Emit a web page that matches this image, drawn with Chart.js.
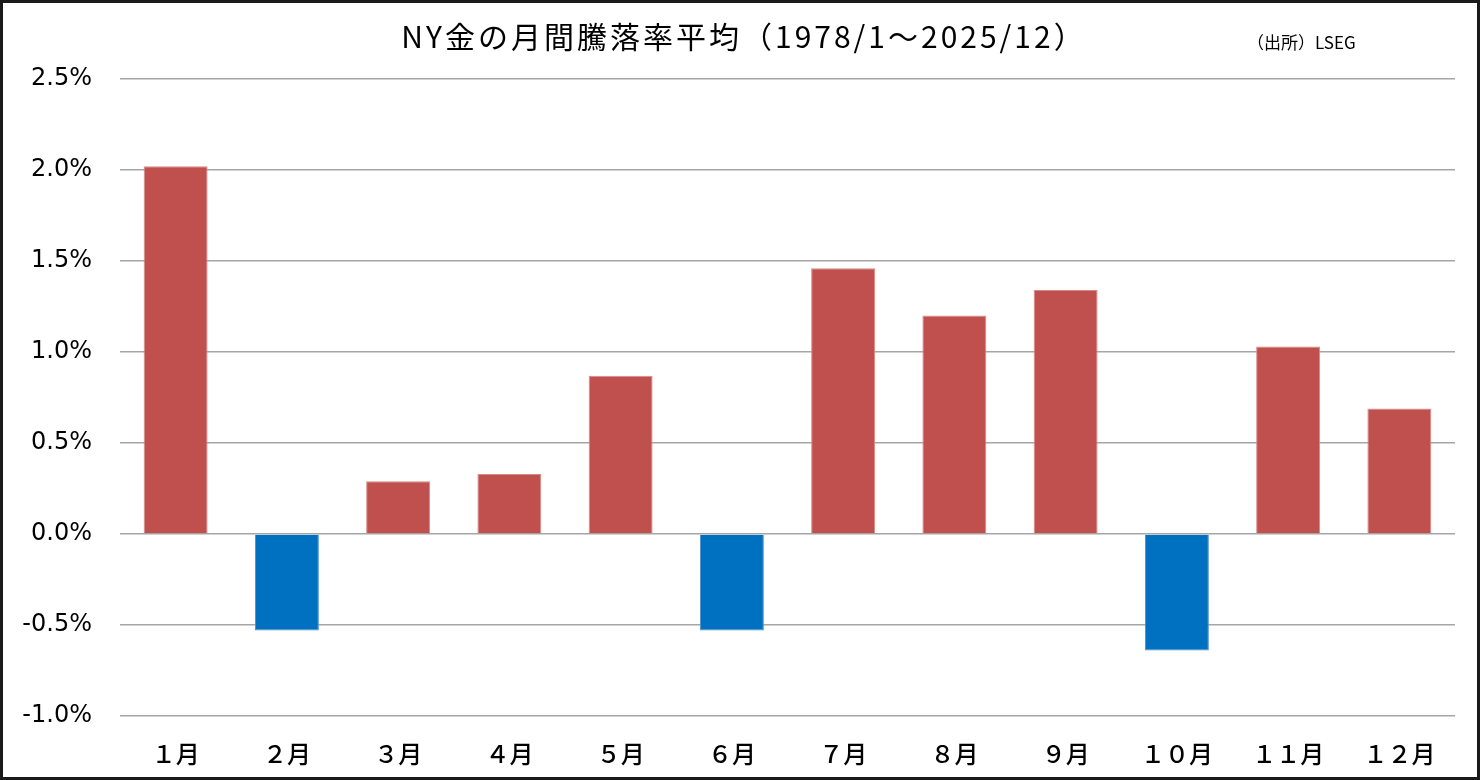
<!DOCTYPE html>
<html lang="ja">
<head>
<meta charset="utf-8">
<title>NY金の月間騰落率平均</title>
<script src="https://cdn.jsdelivr.net/npm/chart.js@4"></script>
<style>
  html, body { margin: 0; padding: 0; background: #fff; }
  #frame {
    width: 1480px; height: 780px; box-sizing: border-box;
    border: 3px solid #1a1a1a; background: #fff;
  }
  #wrap { position: relative; width: 1474px; height: 774px; }
</style>
</head>
<body>
<div id="frame"><div id="wrap"><canvas id="goldChart"></canvas></div></div>
<script>
// 月のラベル
const months = ['１月', '２月', '３月', '４月', '５月', '６月', '７月', '８月', '９月', '１０月', '１１月', '１２月'];
// 月間騰落率の平均（%）— 図から読み取り
const avgReturns = [2.02, -0.53, 0.29, 0.33, 0.87, -0.53, 1.46, 1.20, 1.34, -0.64, 1.03, 0.69];
// 目盛り
const yTicks = [-1.0, -0.5, 0.0, 0.5, 1.0, 1.5, 2.0, 2.5];

const titleText = 'NY金の月間騰落率平均（1978/1～2025/12）';
const sourceText = '（出所）LSEG';

const UP = '#C0504D';
const DOWN = '#0070C0';

// タイトルと出所を描くプラグイン
const headerPlugin = {
  id: 'header',
  afterDraw(chart) {
    const ctx = chart.ctx;
    ctx.save();
    ctx.fillStyle = '#000';
    ctx.textBaseline = 'middle';
    ctx.textAlign = 'center';
    ctx.font = '30px "Noto Sans CJK JP", sans-serif';
    ctx.letterSpacing = '3px';
    ctx.fillText(titleText, 741, 34);
    ctx.letterSpacing = '0px';
    ctx.textAlign = 'left';
    ctx.font = '17px "Noto Sans CJK JP", sans-serif';
    ctx.fillText(sourceText, 1244, 40);
    ctx.restore();
  }
};

new Chart(document.getElementById('goldChart'), {
  type: 'bar',
  data: {
    labels: months,
    datasets: [{
      data: avgReturns,
      backgroundColor: avgReturns.map(v => v < 0 ? DOWN : UP),
      borderColor: avgReturns.map(v => v < 0 ? '#4a90d0' : '#d88a88'),
      borderWidth: 1,
      categoryPercentage: 1.0,
      barPercentage: 0.575,
    }],
  },
  options: {
    responsive: true,
    maintainAspectRatio: false,
    animation: false,
    layout: { padding: { top: 76, right: 22, bottom: 0, left: 0 } },
    plugins: {
      legend: { display: false },
      title: { display: false },
      tooltip: { enabled: false },
    },
    scales: {
      x: {
        grid: { display: false },
        border: { display: false },
        ticks: {
          color: '#000',
          padding: 15,
          maxRotation: 0,
          font: { family: '"Noto Sans CJK JP", sans-serif', size: 24, weight: 500 },
        },
        afterFit(scale) { scale.height = 61; },
      },
      y: {
        min: -1.0,
        max: 2.5,
        afterBuildTicks(scale) { scale.ticks = yTicks.map(v => ({ value: v })); },
        grid: { color: '#a6a6a6', lineWidth: 1.5, drawTicks: false },
        border: { display: false },
        ticks: {
          color: '#000',
          padding: 28,
          font: { family: '"DejaVu Sans", Verdana, sans-serif', size: 24 },
          callback: v => v.toFixed(1) + '%',
        },
        afterFit(scale) { scale.width = 117; },
      },
    },
  },
  plugins: [headerPlugin],
});
</script>
</body>
</html>
